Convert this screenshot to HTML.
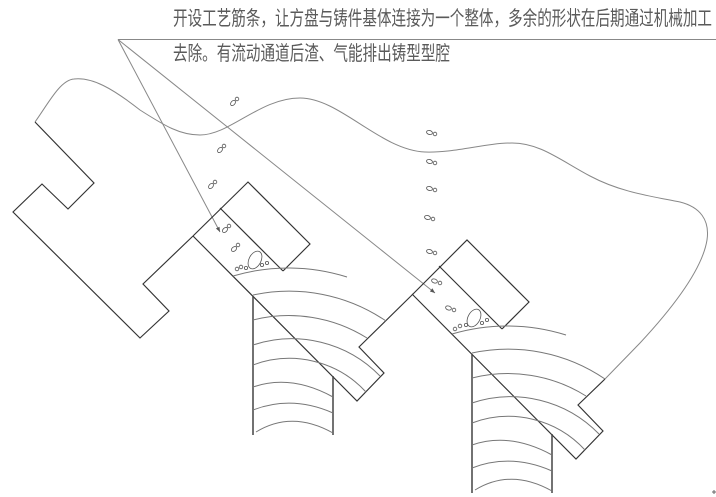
<!DOCTYPE html>
<html>
<head>
<meta charset="utf-8">
<style>
html,body{margin:0;padding:0;background:#fff;}
svg{display:block;}
</style>
</head>
<body>
<svg width="716" height="497" viewBox="0 0 716 497" xmlns="http://www.w3.org/2000/svg">
<rect x="0" y="0" width="716" height="497" fill="#fff"/>

<g font-family="'Liberation Sans','Noto Sans CJK SC',sans-serif" font-size="20" fill="#5a5a5a">
<text x="173" y="25" textLength="539" lengthAdjust="spacingAndGlyphs">开设工艺筋条，让方盘与铸件基体连接为一个整体，多余的形状在后期通过机械加工</text>
<text x="173" y="60" textLength="277" lengthAdjust="spacingAndGlyphs">去除。有流动通道后渣、气能排出铸型型腔</text>
</g>

<g stroke="#888" stroke-width="1" fill="none">
<line x1="118" y1="39.5" x2="716" y2="39.5"/>
<line x1="118" y1="39.5" x2="220" y2="232"/>
<line x1="118" y1="39.5" x2="435" y2="293"/>
</g>
<polygon points="220,232 219.5,226.7 215.9,228.5" fill="#555"/>
<polygon points="435,293 432.4,288.3 429.9,291.5" fill="#555"/>

<path d="M35,122 C48,104 60,80 74,79 C92,77 112,88 140,110 C165,126 180,135 200,135 C230,135 260,98 300,98 C340,98 380,150 425,152 C455,153 485,143 512,143 C540,143 560,160 590,176 C620,192 650,196 680,202 C700,207 710,220 707,240 C703,265 680,300 640,343 L605,379" stroke="#888" stroke-width="1" fill="none"/>

<path d="M35,122 L94,183 L68,209 L42,184 L13,212 L140,338 L169,311 L143,284 L193,236" stroke="#333" stroke-width="1.15" fill="none"/>

<g stroke="#333" stroke-width="1.15" fill="none">
<path d="M193,236 L248,182 L310,244 L283,271"/>
<path d="M220,208 L283,271"/>
<path d="M193,236 L357,401 L384,373 L359,347 L412,295"/>
<path d="M412,295 L467,240 L529,302 L502,329"/>
<path d="M439,266 L502,329"/>
<path d="M412,294 L576,459 L603,431 L578,405 L605,379"/>
</g>
<g stroke="#444" stroke-width="1.5" fill="none">
<line x1="253" y1="296" x2="253" y2="435"/>
<line x1="333" y1="376" x2="333" y2="435"/>
<line x1="472" y1="354" x2="472" y2="493"/>
<line x1="552" y1="434" x2="552" y2="493"/>
</g>
<g stroke="#777" stroke-width="1" fill="none">
<path d="M233,276 A195,195 0 0,1 347,277"/>
<path d="M253,295 A172,172 0 0,1 386,321"/>
<path d="M253,320 A147,147 0 0,1 367,338"/>
<path d="M253,345 A123,123 0 0,1 380,376"/>
<path d="M253,365 A104,104 0 0,1 366,392"/>
<path d="M253,387 Q291,374 333,397"/>
<path d="M253,410 Q292,395 333,413"/>
<path d="M256,432 Q292,410 333,433"/>
<path d="M452,334 A195,195 0 0,1 566,335"/>
<path d="M472,353 A172,172 0 0,1 605,379"/>
<path d="M472,378 A147,147 0 0,1 586,396"/>
<path d="M472,403 A123,123 0 0,1 599,434"/>
<path d="M472,423 A104,104 0 0,1 585,450"/>
<path d="M472,445 Q510,432 552,455"/>
<path d="M472,468 Q511,453 552,471"/>
<path d="M475,490 Q511,468 552,491"/>
</g>

<g stroke="#555" stroke-width="0.8" fill="none">
<ellipse cx="233" cy="103" rx="3" ry="2" transform="rotate(-50 233 103)"/><circle cx="237" cy="99" r="1.8"/>
<ellipse cx="220" cy="150" rx="3" ry="2" transform="rotate(-50 220 150)"/><circle cx="224" cy="146" r="1.8"/>
<ellipse cx="211" cy="186" rx="3" ry="2" transform="rotate(-50 211 186)"/><circle cx="215" cy="182" r="1.8"/>
<ellipse cx="225" cy="230" rx="3" ry="2" transform="rotate(-45 225 230)"/><circle cx="229" cy="226" r="1.8"/>
<ellipse cx="234" cy="249" rx="3" ry="2" transform="rotate(-40 234 249)"/><circle cx="238" cy="245" r="1.8"/>
<ellipse cx="255" cy="260" rx="6" ry="9.5" transform="rotate(28 255 260)"/>
<circle cx="237" cy="269" r="1.8"/>
<circle cx="241" cy="267" r="1.8"/>
<circle cx="246" cy="268" r="1.6"/>
<circle cx="262" cy="265" r="1.6"/>
<circle cx="267" cy="263" r="1.6"/>
<ellipse cx="429.5" cy="132.5" rx="3" ry="2" transform="rotate(15 429.5 132.5)"/><circle cx="435" cy="134" r="1.8"/>
<ellipse cx="429.5" cy="161.5" rx="3" ry="2" transform="rotate(15 429.5 161.5)"/><circle cx="435" cy="163" r="1.8"/>
<ellipse cx="429.5" cy="188.5" rx="3" ry="2" transform="rotate(15 429.5 188.5)"/><circle cx="435" cy="190" r="1.8"/>
<ellipse cx="427.5" cy="217.5" rx="3" ry="2" transform="rotate(15 427.5 217.5)"/><circle cx="433" cy="219" r="1.8"/>
<ellipse cx="429.5" cy="251.5" rx="3" ry="2" transform="rotate(15 429.5 251.5)"/><circle cx="435" cy="253" r="1.8"/>
<ellipse cx="434.5" cy="281" rx="3" ry="2" transform="rotate(20 434.5 281)"/><circle cx="440" cy="283" r="1.8"/>
<ellipse cx="448.5" cy="308" rx="3" ry="2" transform="rotate(20 448.5 308)"/><circle cx="454" cy="310" r="1.8"/>
<ellipse cx="474" cy="318" rx="6" ry="9.5" transform="rotate(28 474 318)"/>
<circle cx="455" cy="329" r="1.8"/>
<circle cx="460" cy="326" r="1.8"/>
<circle cx="466" cy="325" r="1.6"/>
<circle cx="482" cy="323" r="1.6"/>
<circle cx="487" cy="320" r="1.6"/>
</g>

<g stroke="#666" stroke-width="1">
<line x1="712" y1="492" x2="716" y2="492"/>
<line x1="714" y1="490" x2="714" y2="494"/>
</g>
</svg>
</body>
</html>
